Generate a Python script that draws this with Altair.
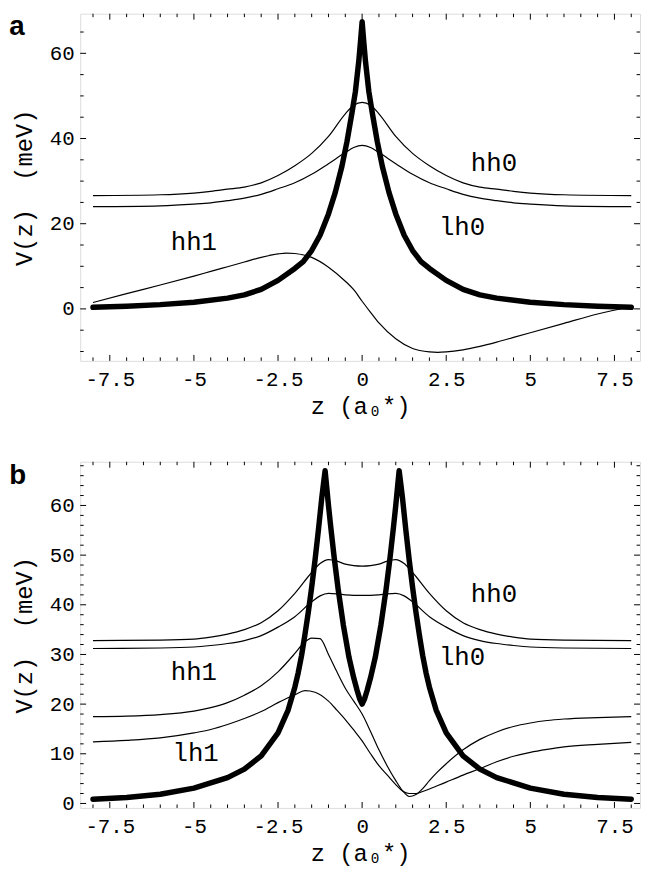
import altair as alt
import pandas as pd

MONO = "Liberation Mono"
SANS = "Liberation Sans"

# ---------------- axes / ticks ----------------
X_DOMAIN = [-8.38, 8.26]
YA_DOMAIN = [-12.2, 69.3]
YB_DOMAIN = [-0.9, 68.8]
W = 566
HA = 351
HB = 350

X_MAJOR = [-7.5, -5, -2.5, 0, 2.5, 5, 7.5]
X_MINOR = [-8, -7, -6.5, -6, -5.5, -4.5, -4, -3.5, -3, -2, -1.5, -1, -0.5,
           0.5, 1, 1.5, 2, 3, 3.5, 4, 4.5, 5.5, 6, 6.5, 7, 8]
YA_MAJOR = [0, 20, 40, 60]
YA_MINOR = [-10, -5, 5, 10, 15, 25, 30, 35, 45, 50, 55, 65]
YB_MAJOR = [0, 10, 20, 30, 40, 50, 60]
YB_MINOR = [2, 4, 6, 8, 12, 14, 16, 18, 22, 24, 26, 28, 32, 34, 36, 38,
            42, 44, 46, 48, 52, 54, 56, 58, 62, 64, 66, 68]

# ---------------- panel a data ----------------
za_thick = [-8, -7, -6, -5, -4, -3.5, -3, -2.5, -2, -1.75, -1.5, -1.25, -1, -0.8, -0.6,
            -0.45, -0.3, -0.2, -0.1, -0.05, 0, 0.05, 0.1, 0.2, 0.3, 0.45, 0.6, 0.8, 1,
            1.25, 1.5, 1.75, 2, 2.5, 3, 3.5, 4, 5, 6, 7, 8]
va_thick = [0.37, 0.63, 1.0, 1.57, 2.54, 3.3, 4.6, 6.7, 9.5, 11.1, 13.7, 17.3, 22.3, 27.3,
            33.5, 39.3, 46.1, 51.0, 58.1, 62.6, 67.4, 62.6, 58.1, 51.0, 46.1, 39.3, 33.5,
            27.3, 22.3, 17.3, 13.7, 11.1, 9.5, 6.7, 4.6, 3.3, 2.54, 1.57, 1.0, 0.63, 0.37]

za_0 = [-8, -6, -5, -4.5, -4, -3.5, -3, -2.5, -2, -1.5, -1, -0.5, -0.25, 0,
        0.25, 0.5, 1, 1.5, 2, 2.5, 3, 3.5, 4, 4.5, 5, 6, 8]
va_hh0 = [26.6, 26.8, 27.2, 27.6, 28.1, 28.6, 29.6, 31.3, 33.6, 36.5, 40.5, 45.8, 47.8, 48.5,
          47.8, 45.8, 40.5, 36.5, 33.6, 31.3, 29.6, 28.6, 28.1, 27.6, 27.2, 26.8, 26.6]
va_lh0 = [24.0, 24.2, 24.6, 24.9, 25.4, 26.0, 26.9, 28.2, 29.6, 31.6, 34.1, 36.7, 37.9, 38.4,
          37.9, 36.7, 34.1, 31.6, 29.6, 28.2, 26.9, 26.0, 25.4, 24.9, 24.6, 24.2, 24.0]

za_hh1 = [-8, -7, -6, -5, -4.5, -4, -3.5, -3, -2.5, -2.25, -2, -1.5, -1, -0.5, -0.25, 0,
          0.25, 0.5, 1, 1.5, 2, 2.25, 2.5, 3, 3.5, 4, 4.5, 5, 6, 7, 8]
va_hh1 = [1.5, 3.6, 5.6, 7.7, 8.8, 9.9, 11.0, 12.1, 12.9, 13.1, 13.0, 12.1, 9.8, 6.5, 4.5, 1.8,
          -0.8, -3.3, -7.0, -9.3, -10.1, -10.2, -10.1, -9.6, -8.8, -7.8, -6.7, -5.6, -3.4, -1.2, 0.5]

a_lab_text = ["hh0", "lh0", "hh1"]
a_lab_z = [3.92, 2.97, -5.0]
a_lab_v = [34.2, 19.2, 15.8]

# ---------------- panel b data ----------------
zb_thick = [-8, -7, -6, -5, -4, -3.5, -3, -2.5, -2.2, -2, -1.9, -1.8, -1.7, -1.6, -1.5, -1.4,
            -1.3, -1.2, -1.15, -1.1, -1.05, -1.0, -0.93, -0.83, -0.71, -0.56, -0.39, -0.25,
            -0.15, -0.07, 0, 0.07, 0.15, 0.25, 0.39, 0.56, 0.71, 0.83, 0.93, 1.0, 1.05, 1.1,
            1.15, 1.2, 1.3, 1.4, 1.5, 1.6, 1.7, 1.8, 1.9, 2, 2.2, 2.5, 3, 3.5, 4, 5, 6, 7, 8]
vb_thick = [0.85, 1.2, 1.85, 3.1, 5.2, 6.9, 9.6, 14.2, 18.8, 23.4, 26.3, 29.8, 34.0, 38.5, 43.5,
            49.0, 55.0, 61.5, 64.3, 67.0, 63.5, 60.0, 55.5, 49.5, 43.0, 36.0, 29.4, 25.3, 22.8,
            21.0, 20.0, 21.0, 22.8, 25.3, 29.4, 36.0, 43.0, 49.5, 55.5, 60.0, 63.5, 67.0, 64.3,
            61.5, 55.0, 49.0, 43.5, 38.5, 34.0, 29.8, 26.3, 23.4, 18.8, 14.2, 9.6, 6.9, 5.2,
            3.1, 1.85, 1.2, 0.85]

zb_0 = [-8, -6, -5, -4.5, -4, -3.5, -3, -2.5, -2, -1.5, -1.25, -1.0, -0.75, -0.5, -0.25, 0,
        0.25, 0.5, 0.75, 1.0, 1.25, 1.5, 2, 2.5, 3, 3.5, 4, 4.5, 5, 6, 8]
vb_hh0 = [32.8, 32.9, 33.1, 33.5, 34.1, 35.0, 36.4, 38.8, 42.3, 46.5, 48.3, 49.1, 48.8, 48.2,
          47.9, 47.8, 47.9, 48.2, 48.8, 49.1, 48.3, 46.5, 42.3, 38.8, 36.4, 35.0, 34.1, 33.5,
          33.1, 32.9, 32.8]
vb_lh0 = [31.2, 31.3, 31.5, 31.8, 32.2, 32.8, 33.8, 35.5, 37.6, 40.6, 41.8, 42.3, 42.2, 42.0,
          41.9, 41.9, 41.9, 42.0, 42.2, 42.3, 41.8, 40.6, 37.6, 35.5, 33.8, 32.8, 32.2, 31.8,
          31.5, 31.3, 31.2]

zb_hh1 = [-8, -7, -6, -5, -4.5, -4, -3.5, -3, -2.5, -2, -1.75, -1.5, -1.25, -1, -0.75, -0.5,
          -0.25, 0, 0.25, 0.5, 0.75, 1, 1.2, 1.4, 1.6, 1.8, 2, 2.25, 2.5, 3, 3.5, 4, 4.5, 5,
          5.5, 6, 7, 8]
vb_hh1 = [17.5, 17.6, 17.9, 18.6, 19.3, 20.3, 21.8, 23.7, 26.5, 30.2, 32.2, 33.3, 33.2, 30.0,
          26.5, 23.2, 20.6, 18.0, 14.5, 10.8, 7.5, 4.6, 2.6, 1.4, 1.8, 3.0, 4.6, 6.4, 8.0, 10.8,
          12.9, 14.4, 15.5, 16.2, 16.7, 17.0, 17.3, 17.5]

zb_lh1 = [-8, -7, -6, -5, -4.5, -4, -3.5, -3, -2.5, -2, -1.7, -1.4, -1, -0.75, -0.5, -0.25, 0,
          0.25, 0.5, 0.75, 1, 1.2, 1.4, 1.6, 1.8, 2, 2.25, 2.5, 3, 3.5, 4, 4.5, 5, 5.5, 6, 7, 8]
vb_lh1 = [12.4, 12.7, 13.2, 14.2, 14.9, 15.9, 17.1, 18.5, 20.3, 21.9, 22.7, 22.4, 20.6, 18.8,
          16.9, 14.8, 12.6, 10.0, 7.6, 5.7, 3.8, 2.5, 2.0, 2.0, 2.4, 2.9, 3.6, 4.3, 5.7, 7.0,
          8.4, 9.5, 10.3, 10.9, 11.4, 11.9, 12.3]

b_lab_text = ["hh0", "lh0", "hh1", "lh1"]
b_lab_z = [3.92, 2.97, -5.0, -4.95]
b_lab_v = [42.2, 29.4, 26.4, 10.2]

LETTER_Z = -10.49
MAJOR_LEN = 6      # px
MINOR_LEN = 3.5    # px


def frame(curves):
    rows = []
    for name, zs, vs in curves:
        for z, v in zip(zs, vs):
            rows.append({"curve": name, "z": z, "V": v})
    return pd.DataFrame(rows)


def panel(thin, thick, labels, letter, ydom, h, ymaj, ymin):
    xs = alt.Scale(domain=X_DOMAIN, nice=False, zero=False)
    ys = alt.Scale(domain=ydom, nice=False, zero=False)
    x_per_px = (X_DOMAIN[1] - X_DOMAIN[0]) / W
    y_per_px = (ydom[1] - ydom[0]) / h

    x_lab_axis = alt.Axis(orient="bottom", values=X_MAJOR, ticks=False, tickSize=0,
                          domain=False, grid=False, labelExpr="datum.value + ''",
                          labelFont=MONO, labelFontSize=21, labelColor="black",
                          labelPadding=8, labelFlush=False, labelOverlap=False,
                          title="z (a\u2080*)", titleFont=MONO, titleFontSize=24,
                          titleFontWeight="normal", titleColor="black",
                          titleX=W / 2, titleY=46, titleBaseline="middle", titleAlign="center")
    y_lab_axis = alt.Axis(orient="left", values=ymaj, ticks=False, tickSize=0,
                          domain=False, grid=False, labelFont=MONO, labelFontSize=21,
                          labelColor="black", labelPadding=6, labelFlush=False,
                          labelOverlap=False,
                          title="V(z)\u00a0\u00a0(meV)", titleFont=MONO, titleFontSize=24,
                          titleFontWeight="normal", titleColor="black",
                          titleX=-56, titleY=h / 2, titleAngle=270,
                          titleBaseline="middle", titleAlign="center")

    thin_layer = alt.Chart(frame(thin)).mark_line(
        color="black", strokeWidth=1.2, interpolate="monotone"
    ).encode(
        x=alt.X("z:Q", scale=xs, axis=x_lab_axis),
        y=alt.Y("V:Q", scale=ys, axis=y_lab_axis),
        detail="curve:N",
    )
    thick_layer = alt.Chart(frame(thick)).mark_line(
        color="black", strokeWidth=5.5, strokeCap="round", strokeJoin="round"
    ).encode(
        x=alt.X("z:Q", scale=xs, axis=None),
        y=alt.Y("V:Q", scale=ys, axis=None),
    )
    lab_df = pd.DataFrame({"t": labels[0], "z": labels[1], "V": labels[2]})
    text_layer = alt.Chart(lab_df).mark_text(
        font=MONO, fontSize=26, color="black", align="center", baseline="middle"
    ).encode(
        x=alt.X("z:Q", scale=xs, axis=None),
        y=alt.Y("V:Q", scale=ys, axis=None),
        text="t:N",
    )
    let_df = pd.DataFrame({"t": [letter], "z": [LETTER_Z], "V": [ydom[1]]})
    letter_layer = alt.Chart(let_df).mark_text(
        font=SANS, fontSize=28, fontWeight="bold", color="black", align="left", baseline="top"
    ).encode(
        x=alt.X("z:Q", scale=xs, axis=None),
        y=alt.Y("V:Q", scale=ys, axis=None),
        text="t:N",
    )

    def xticks(vals, length, edge, sign):
        df = pd.DataFrame({"z": vals})
        return alt.Chart(df).mark_rule(color="black", strokeWidth=1).encode(
            x=alt.X("z:Q", scale=xs, axis=None),
            y=alt.YDatum(edge, type="quantitative", scale=ys, axis=None),
            y2=alt.Y2Datum(edge + sign * length * y_per_px),
        )

    def yticks(vals, length, edge, sign):
        df = pd.DataFrame({"V": vals})
        return alt.Chart(df).mark_rule(color="black", strokeWidth=1).encode(
            y=alt.Y("V:Q", scale=ys, axis=None),
            x=alt.XDatum(edge, type="quantitative", scale=xs, axis=None),
            x2=alt.X2Datum(edge + sign * length * x_per_px),
        )

    layers = [
        thin_layer, thick_layer, text_layer, letter_layer,
        xticks(X_MAJOR, MAJOR_LEN, ydom[0], 1), xticks(X_MINOR, MINOR_LEN, ydom[0], 1),
        xticks(X_MAJOR, MAJOR_LEN, ydom[1], -1), xticks(X_MINOR, MINOR_LEN, ydom[1], -1),
        yticks(ymaj, MAJOR_LEN, X_DOMAIN[0], 1), yticks(ymin, MINOR_LEN, X_DOMAIN[0], 1),
        yticks(ymaj, MAJOR_LEN, X_DOMAIN[1], -1), yticks(ymin, MINOR_LEN, X_DOMAIN[1], -1),
    ]
    return alt.layer(*layers).resolve_axis(x="independent", y="independent").properties(
        width=W, height=h
    )


panel_a = panel(
    [("hh0", za_0, va_hh0), ("lh0", za_0, va_lh0), ("hh1", za_hh1, va_hh1)],
    [("V", za_thick, va_thick)],
    (a_lab_text, a_lab_z, a_lab_v), "a", YA_DOMAIN, HA, YA_MAJOR, YA_MINOR,
)
panel_b = panel(
    [("hh0", zb_0, vb_hh0), ("lh0", zb_0, vb_lh0), ("hh1", zb_hh1, vb_hh1),
     ("lh1", zb_lh1, vb_lh1)],
    [("V", zb_thick, vb_thick)],
    (b_lab_text, b_lab_z, b_lab_v), "b", YB_DOMAIN, HB, YB_MAJOR, YB_MINOR,
)

chart = alt.vconcat(panel_a, panel_b, spacing=42).properties(
    padding={"left": 0, "top": 0, "right": 0, "bottom": 0}
).configure_view(stroke="black", strokeWidth=1.2).configure(background="white")

chart.save("out.html", embed_options={"renderer": "svg", "actions": False})
